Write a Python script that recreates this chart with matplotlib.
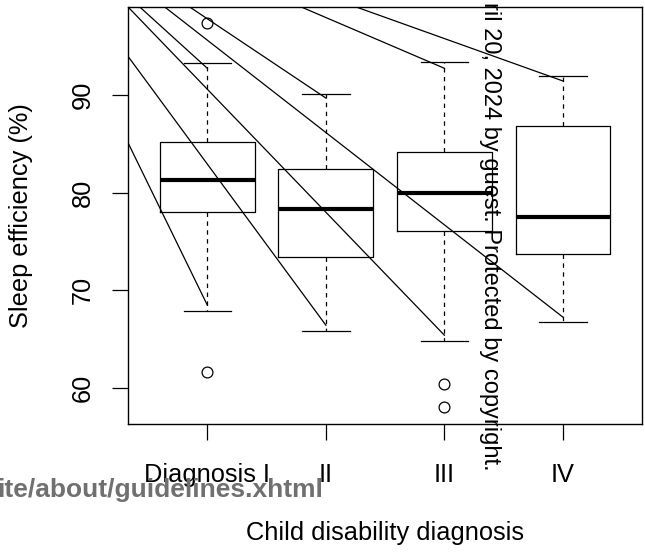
import matplotlib
matplotlib.use("Agg")
import matplotlib.pyplot as plt

plt.rcParams['font.family'] = ['Liberation Sans', 'DejaVu Sans']
plt.rcParams['lines.scale_dashes'] = False

# ---- data ----
categories = ["Diagnosis I", "II", "III", "IV"]
q1 = [78.0, 73.4, 76.1, 73.7]
medians = [81.3, 78.3, 80.0, 77.5]
q3 = [85.2, 82.4, 84.15, 86.85]
whisker_low = [67.9, 65.8, 64.8, 66.7]
whisker_high = [93.25, 90.1, 93.35, 91.95]
outliers = [[97.35, 61.6], [], [60.35, 58.0], []]
y_ticks = [60, 70, 80, 90]

# overlay artefact segments (watermark lines) in data coordinates
overlay_start_x = [0.432, 0.854, 1.797, 2.261, 0.333, 0.333, 0.333, 0.643]
overlay_start_y = [99.0, 99.0, 99.0, 99.0, 85.05, 93.93, 99.0, 99.0]
overlay_end_x = [1, 2, 3, 4, 1, 2, 3, 4]
overlay_end_y = [92.74, 89.69, 92.74, 91.44, 68.46, 66.41, 65.38, 67.23]

FS = 18.3

fig = plt.figure(figsize=(6.45, 5.55), dpi=100)
ax = fig.add_axes([0.1989, 0.2360, 0.7972, 0.7508])

stats = []
for i, c in enumerate(categories):
    stats.append(dict(label=c, q1=q1[i], med=medians[i], q3=q3[i],
                      whislo=whisker_low[i], whishi=whisker_high[i],
                      fliers=outliers[i]))

positions = list(range(1, len(categories) + 1))
ax.bxp(stats, positions=positions, widths=0.8, showfliers=True,
       boxprops=dict(color='black', linewidth=0.9),
       medianprops=dict(color='black', linewidth=3.0, solid_capstyle='butt'),
       whiskerprops=dict(color='black', linewidth=0.9, linestyle=(0, (3.2, 3.2))),
       capprops=dict(color='black', linewidth=0.9),
       flierprops=dict(marker='o', markersize=7.8, markerfacecolor='none',
                       markeredgecolor='black', markeredgewidth=0.9))

for sx, sy, ex, ey in zip(overlay_start_x, overlay_start_y, overlay_end_x, overlay_end_y):
    ax.plot([sx, ex], [sy, ey], color='black', linewidth=0.9, zorder=5)

ax.set_xlim(0.333, 4.671)
ax.set_ylim(56.28, 98.99)
ax.set_xticks(positions)
ax.set_xticklabels(categories)
ax.set_yticks(y_ticks)
ax.set_yticklabels([str(v) for v in y_ticks], rotation=90, va='center')

ax.tick_params(axis='both', direction='out', length=11.3, width=0.9,
               labelsize=FS, color='black')
ax.tick_params(axis='x', pad=16.5)
ax.tick_params(axis='y', pad=12.5)
for s in ax.spines.values():
    s.set_linewidth(1.0)

ax.set_xlabel("Child disability diagnosis", fontsize=FS)
ax.xaxis.set_label_coords(0.5, -0.232)
ax.set_ylabel("Sleep efficiency (%)", fontsize=FS)
ax.yaxis.set_label_coords(-0.186, 0.5)

# watermark texts
fig.text(490 / 645, (555 - 471) / 555, "ril 20, 2024 by guest. Protected by copyright.",
         rotation=-90, ha='center', va='bottom', fontsize=17.0, color='black')
fig.text(323 / 645, (555 - 496.7) / 555, "ite/about/guidelines.xhtml",
         ha='right', va='baseline', fontsize=19.0, fontweight='bold', color='#707070')

fig.savefig("out.png", dpi=100)
